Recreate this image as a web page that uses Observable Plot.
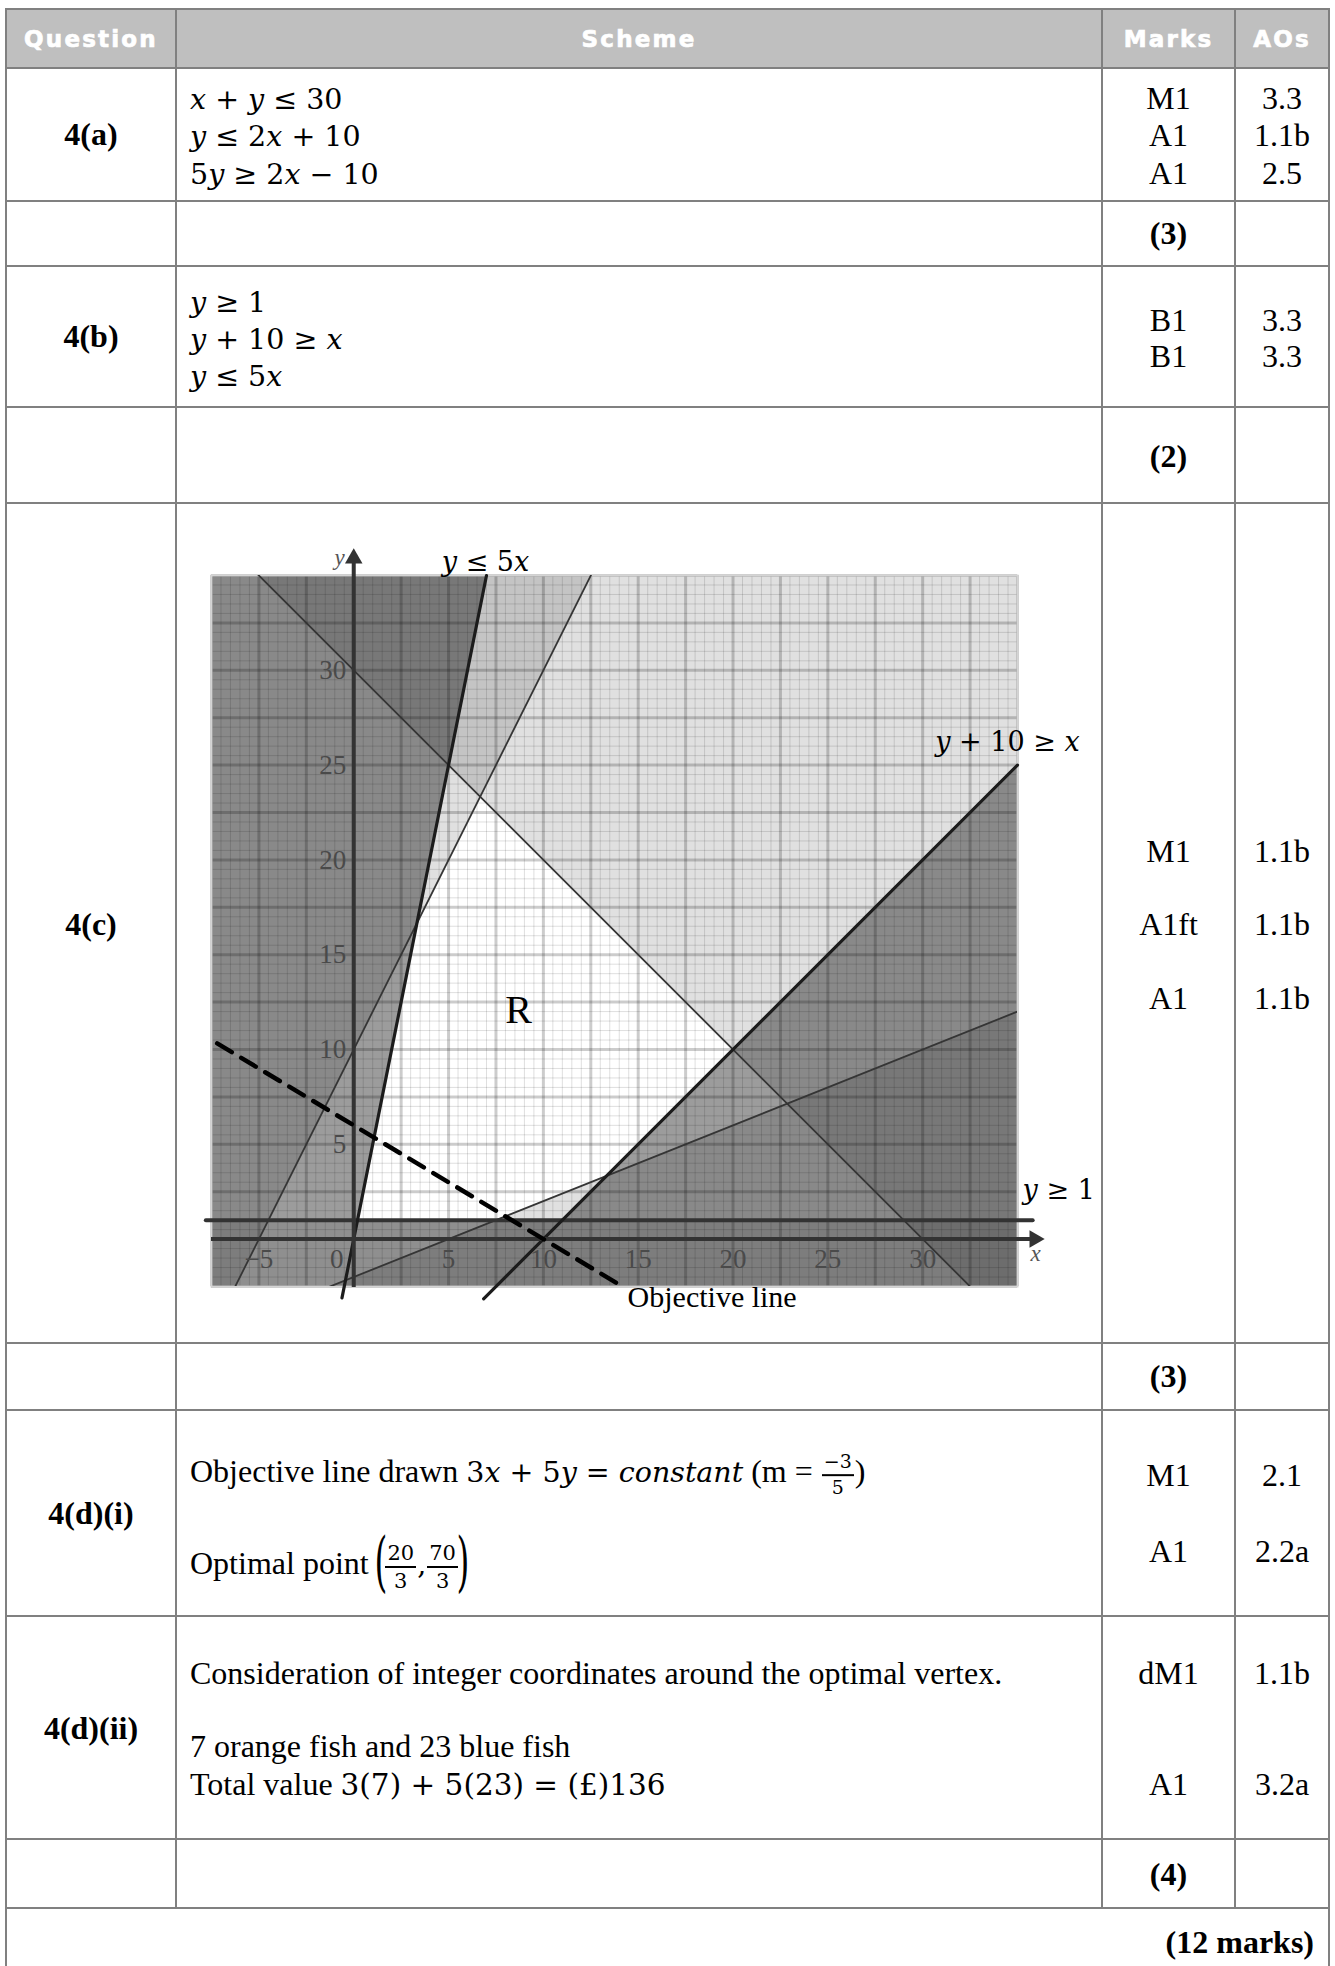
<!DOCTYPE html>
<html>
<head>
<meta charset="utf-8">
<script src="https://cdn.jsdelivr.net/npm/d3@7"></script>
<script src="https://cdn.jsdelivr.net/npm/@observablehq/plot@0.6"></script>
<style>
  html, body { margin: 0; padding: 0; background: #fff; overflow: hidden; }
  #page { position: relative; width: 1335px; height: 1966px; background: #fff; overflow: hidden; }
  .hl { position: absolute; height: 2px; background: #808080; z-index: 3; }
  .vl { position: absolute; width: 2px; background: #808080; z-index: 3; }
  .tx { position: absolute; white-space: nowrap; line-height: 1; font-family: "Liberation Serif", "Times New Roman", serif; font-size: 32px; color: #000; z-index: 4; }
  .hd { font-family: "DejaVu Sans", Verdana, sans-serif; font-weight: 700; font-size: 23px; letter-spacing: 2.2px; color: #fff; -webkit-text-stroke: 0.7px #fff; }
  .b { font-weight: bold; }
  .m { font-family: "DejaVu Serif", serif; font-size: 28.5px; }
  .m i { font-style: italic; }
  .frac { display: inline-flex; flex-direction: column; vertical-align: middle; font-family: "DejaVu Serif", serif; font-size: 19px; text-align: center; line-height: 1.15; margin: 0 1px; }
  .frac .nu { border-bottom: 2px solid #000; padding: 0 2px 1px 2px; }
  .frac .de { padding-top: 1px; }
  .fr2 { font-size: 21px; }
  .bigp { display: inline-block; font-family: "DejaVu Serif", serif; font-size: 66px; transform: scale(0.5, 1); vertical-align: middle; line-height: 1; margin: 0 -9px; position: relative; top: -5px; }
  #chart { position: absolute; left: 176px; top: 503px; width: 926px; height: 840px; z-index: 1; }
</style>
</head>
<body>
<div id="page">
  <div style="position:absolute;left:6px;top:9px;width:1324px;height:59px;background:#bfbfbf;z-index:0"></div>
  <div id="chart"></div>
</div>
<script>
// ---------------- chart data ----------------
// constraints written as a*x + b*y <= c
const constraintNames = ["x + y ≤ 30", "y ≤ 2x + 10", "5y ≥ 2x − 10", "y ≥ 1", "y + 10 ≥ x", "y ≤ 5x"];
const constraintA = [1, -2, 2, 0, 1, -5];
const constraintB = [1, 1, -5, -1, -1, 1];
const constraintC = [30, 10, 10, -1, 10, 0];
const constraintPart = ["a", "a", "a", "b", "b", "b"];
// x-extent over which each boundary line is drawn
const lineFromX = [-7.5, -7.5, -7.5, -7.8, 6.85, -0.62];
const lineToX = [35, 35, 35, 35.8, 35, 7];
// objective line 3x + 5y = 30
const objA = 3, objB = 5, objC = 30;
const objFromX = -7.2, objToX = 14.2;
// axes / ticks
const xDomain = [-7.5, 35];
const yDomain = [-2.5, 35];
const axisEnd = 36.2;
const xTicks = [-5, 0, 5, 10, 15, 20, 25, 30];
const yTicks = [5, 10, 15, 20, 25, 30];
// text labels on the graph
const labelText = ["y ≤ 5x", "y + 10 ≥ x", "y ≥ 1"];
const labelX = [6.95, 34.47, 35.27];
const labelY = [35.7, 26.2, 2.55];

// ---------------- build chart ----------------
const cons = constraintNames.map((name, i) => ({
  name, a: constraintA[i], b: constraintB[i], c: constraintC[i], part: constraintPart[i],
  from: lineFromX[i], to: lineToX[i]
}));
const lineY = (k, x) => (k.c - k.a * x) / k.b;

const isMaj = v => Math.abs(v / 2.5 - Math.round(v / 2.5)) < 1e-6;
const fineX = d3.range(xDomain[0], xDomain[1] + 0.001, 0.5).filter(v => !isMaj(v));
const fineY = d3.range(yDomain[0], yDomain[1] + 0.001, 0.5).filter(v => !isMaj(v));
const majX = d3.range(xDomain[0], xDomain[1] + 0.001, 2.5);
const majY = d3.range(yDomain[0], yDomain[1] + 0.001, 2.5);

const marks = [];
marks.push(Plot.frame({fill: "white"}));
// part (b) rejected half-planes: opaque mid grey (no stacking)
for (const k of cons.filter(k => k.part === "b")) {
  marks.push(Plot.area(xDomain, {
    x1: d => d, y1: d => lineY(k, d),
    y2: k.b > 0 ? yDomain[1] + 40 : yDomain[0] - 40,
    fill: "#9c9c9c", clip: true
  }));
}
// the y >= 1 band is a touch darker in the picture
for (const k of cons.filter(k => k.part === "b" && k.a === 0)) {
  marks.push(Plot.area(xDomain, {
    x1: d => d, y1: d => lineY(k, d), y2: yDomain[0] - 40,
    fill: "black", fillOpacity: 0.08, clip: true
  }));
}
// part (a) rejected half-planes: light translucent (stacking)
for (const k of cons.filter(k => k.part === "a")) {
  marks.push(Plot.area(xDomain, {
    x1: d => d, y1: d => lineY(k, d),
    y2: k.b > 0 ? yDomain[1] + 40 : yDomain[0] - 40,
    fill: "black", fillOpacity: 0.12, clip: true
  }));
}
// graph-paper grid (translucent so it darkens with the shading)
marks.push(Plot.ruleX(fineX, {x: d => d, y1: yDomain[0], y2: yDomain[1], stroke: "black", strokeOpacity: 0.13, strokeWidth: 1}));
marks.push(Plot.ruleY(fineY, {y: d => d, x1: xDomain[0], x2: xDomain[1], stroke: "black", strokeOpacity: 0.13, strokeWidth: 1}));
marks.push(Plot.ruleX(majX, {x: d => d, y1: yDomain[0], y2: yDomain[1], stroke: "black", strokeOpacity: 0.2, strokeWidth: 3}));
marks.push(Plot.ruleY(majY, {y: d => d, x1: xDomain[0], x2: xDomain[1], stroke: "black", strokeOpacity: 0.2, strokeWidth: 3}));
marks.push(Plot.frame({stroke: "#d4d4d4", strokeWidth: 2}));

// boundary lines
for (const k of cons) {
  const thick = k.part === "b";
  marks.push(Plot.line([k.from, k.to], {
    x: d => d, y: d => lineY(k, d),
    stroke: thick ? (k.a === 0 ? "#333" : "#1c1c1c") : "#353535",
    strokeWidth: thick ? (k.a === 0 ? 4 : 3.2) : 1.8,
    clip: !thick
  }));
}
// axes with filled arrow heads
marks.push(Plot.ruleY([0], {x1: xDomain[0], x2: axisEnd - 0.4, stroke: "#333", strokeWidth: 4}));
marks.push(Plot.ruleX([0], {y1: yDomain[0] - 0.05, y2: axisEnd - 0.4, stroke: "#333", strokeWidth: 4}));
marks.push(Plot.dot([0], {x: axisEnd - 0.3, y: 0, symbol: "triangle", r: 6.5, fill: "#333", stroke: "none", rotate: 90}));
marks.push(Plot.dot([0], {x: 0, y: axisEnd - 0.3, symbol: "triangle", r: 6.5, fill: "#333", stroke: "none"}));
// objective line
marks.push(Plot.line([objFromX, objToX], {
  x: d => d, y: d => (objC - objA * d) / objB,
  stroke: "black", strokeWidth: 4.5, strokeDasharray: "17,11"
}));
// tick labels
marks.push(Plot.text(xTicks, {
  x: d => d === 0 ? -0.9 : d, y: -1.05,
  text: d => d < 0 ? "−" + Math.abs(d) : String(d),
  fill: "#4a4a4a", fontSize: 27, fontFamily: "Liberation Serif"
}));
marks.push(Plot.text(yTicks, {
  x: -0.4, y: d => d, text: d => String(d), textAnchor: "end",
  fill: "#4a4a4a", fontSize: 27, fontFamily: "Liberation Serif"
}));
// axis names
marks.push(Plot.text(["y"], {x: -0.75, y: 35.95, text: d => d, fontStyle: "italic", fill: "#555", fontSize: 23, fontFamily: "Liberation Serif"}));
marks.push(Plot.text(["x"], {x: 35.95, y: -0.75, text: d => d, fontStyle: "italic", fill: "#555", fontSize: 23, fontFamily: "Liberation Serif"}));
// inequality labels
marks.push(Plot.text([0, 1], {
  x: i => labelX[i], y: i => labelY[i], text: i => labelText[i],
  textAnchor: "middle", fill: "black", fontSize: 27, fontFamily: "DejaVu Serif"
}));
marks.push(Plot.text([2], {
  x: i => labelX[i], y: i => labelY[i], text: i => labelText[i],
  textAnchor: "start", fill: "black", fontSize: 27, fontFamily: "DejaVu Serif"
}));
marks.push(Plot.text(["Objective line"], {x: 14.44, y: -3.08, text: d => d, textAnchor: "start", fill: "black", fontSize: 30, fontFamily: "Liberation Serif"}));
marks.push(Plot.text(["R"], {x: 8.69, y: 12.06, text: d => d, fill: "black", fontSize: 40, fontFamily: "Liberation Serif"}));

const svg = Plot.plot({
  width: 926, height: 840,
  marginLeft: 35, marginRight: 85, marginTop: 72, marginBottom: 57,
  x: {domain: xDomain, axis: null},
  y: {domain: yDomain, axis: null},
  style: {background: "transparent", overflow: "visible"},
  marks
});
document.getElementById("chart").appendChild(svg);

// italicise the variables in the inequality labels
d3.select(svg).selectAll("text").each(function () {
  const t = this.textContent;
  if (!labelText.includes(t)) return;
  this.textContent = "";
  for (const part of t.split(/([xy])/)) {
    if (!part) continue;
    const ts = document.createElementNS("http://www.w3.org/2000/svg", "tspan");
    ts.textContent = part;
    if (part === "x" || part === "y") ts.setAttribute("font-style", "italic");
    this.appendChild(ts);
  }
});

// ---------------- table ----------------
const page = document.getElementById("page");
function hline(y, x1, x2) { const d = document.createElement("div"); d.className = "hl"; d.style.left = (x1 - 1) + "px"; d.style.top = (y - 1) + "px"; d.style.width = (x2 - x1 + 2) + "px"; page.appendChild(d); }
function vline(x, y1, y2) { const d = document.createElement("div"); d.className = "vl"; d.style.left = (x - 1) + "px"; d.style.top = (y1 - 1) + "px"; d.style.height = (y2 - y1 + 2) + "px"; page.appendChild(d); }
function put(x, y, html, cls, align) {
  const d = document.createElement("div");
  d.className = "tx " + (cls || "");
  d.style.left = x + "px"; d.style.top = y + "px";
  d.style.transform = align === "l" ? "translate(0,-50%)" : align === "r" ? "translate(-100%,-50%)" : "translate(-50%,-50%)";
  d.innerHTML = html;
  page.appendChild(d);
}
const L = 6, C1 = 176, C2 = 1102, C3 = 1235, R = 1329;
const rowLines = [9, 68, 200.6, 265.7, 407.4, 502.7, 1342.5, 1410, 1616, 1839, 1908];
rowLines.forEach(y => hline(y, L, R));
vline(L, 9, 1966); vline(R, 9, 1966);
[C1, C2, C3].forEach(x => vline(x, 9, 1908));

const qx = (L + C1) / 2, mx = (C2 + C3) / 2, ax = (C3 + R) / 2, sx = 190;
// header
put(qx, 38.5, "Question", "hd");
put((C1 + C2) / 2, 38.5, "Scheme", "hd");
put(mx, 38.5, "Marks", "hd");
put(ax, 38.5, "AOs", "hd");
// 4(a)
put(qx, 134, "4(a)", "b");
put(sx, 97.8, '<span class="m"><i>x</i> + <i>y</i> ≤ 30</span>', "", "l");
put(sx, 135.4, '<span class="m"><i>y</i> ≤ 2<i>x</i> + 10</span>', "", "l");
put(sx, 173, '<span class="m">5<i>y</i> ≥ 2<i>x</i> − 10</span>', "", "l");
put(mx, 97.8, "M1"); put(mx, 135.4, "A1"); put(mx, 173, "A1");
put(ax, 97.8, "3.3"); put(ax, 135.4, "1.1b"); put(ax, 173, "2.5");
put(mx, 233, "(3)", "b");
// 4(b)
put(qx, 336, "4(b)", "b");
put(sx, 301, '<span class="m"><i>y</i> ≥ 1</span>', "", "l");
put(sx, 338.4, '<span class="m"><i>y</i> + 10 ≥ <i>x</i></span>', "", "l");
put(sx, 374.8, '<span class="m"><i>y</i> ≤ 5<i>x</i></span>', "", "l");
put(mx, 319.6, "B1"); put(mx, 356, "B1");
put(ax, 319.6, "3.3"); put(ax, 356, "3.3");
put(mx, 456, "(2)", "b");
// 4(c)
put(qx, 923.5, "4(c)", "b");
put(mx, 851, "M1"); put(mx, 924, "A1ft"); put(mx, 998, "A1");
put(ax, 851, "1.1b"); put(ax, 924, "1.1b"); put(ax, 998, "1.1b");
put(mx, 1376, "(3)", "b");
// 4(d)(i)
put(qx, 1513, "4(d)(i)", "b");
put(sx, 1475, 'Objective line drawn <span class="m">3<i>x</i> + 5<i>y</i> = <i>constant</i></span> (m = <span class="frac"><span class="nu">−3</span><span class="de">5</span></span>)', "", "l");
put(sx, 1567, 'Optimal point <span class="bigp">(</span><span class="frac fr2"><span class="nu">20</span><span class="de">3</span></span><span class="m">,</span><span class="frac fr2"><span class="nu">70</span><span class="de">3</span></span><span class="bigp">)</span>', "", "l");
put(mx, 1475.4, "M1"); put(mx, 1550.6, "A1");
put(ax, 1475.4, "2.1"); put(ax, 1550.6, "2.2a");
// 4(d)(ii)
put(qx, 1728, "4(d)(ii)", "b");
put(sx, 1673.4, "Consideration of integer coordinates around the optimal vertex.", "", "l");
put(sx, 1746, "7 orange fish and 23 blue fish", "", "l");
put(sx, 1784, 'Total value <span class="m" style="font-size:29.5px">3(7) + 5(23) = (£)136</span>', "", "l");
put(mx, 1673.4, "dM1"); put(mx, 1784, "A1");
put(ax, 1673.4, "1.1b"); put(ax, 1784, "3.2a");
put(mx, 1874, "(4)", "b");
// total
put(1314, 1942, "(12 marks)", "b", "r");
</script>
</body>
</html>
